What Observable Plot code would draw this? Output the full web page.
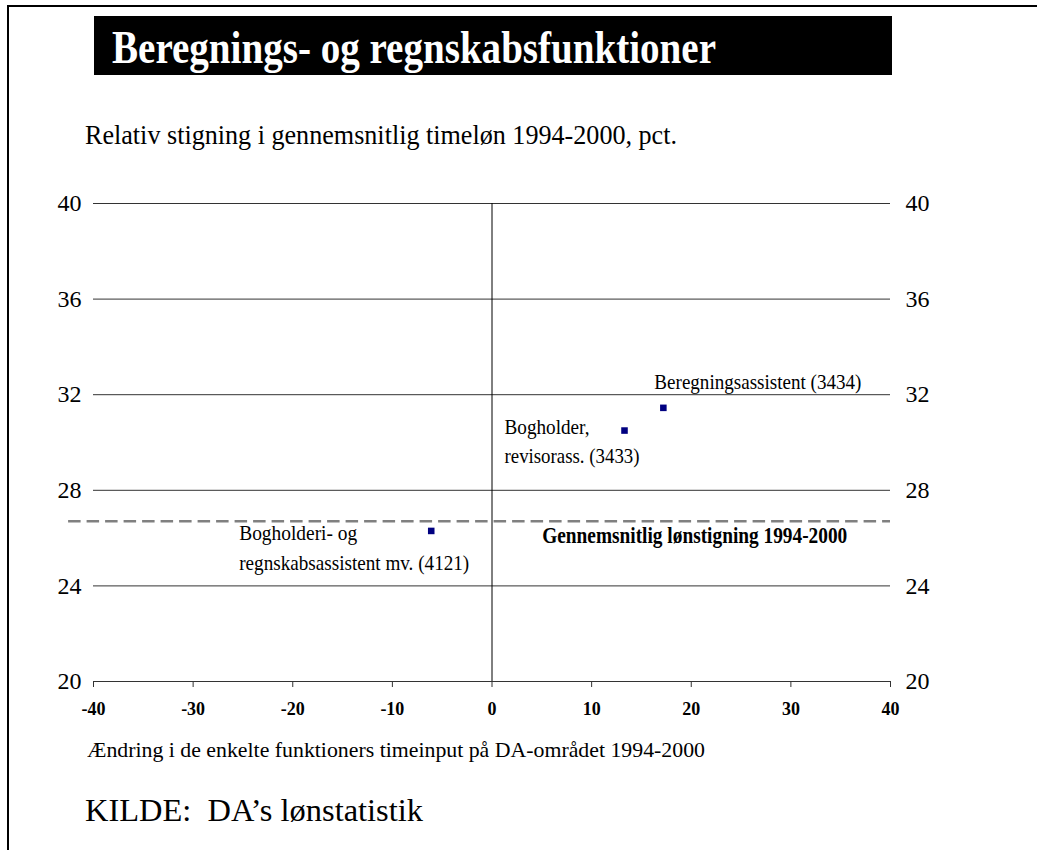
<!DOCTYPE html>
<html><head><meta charset="utf-8">
<script src="https://cdn.jsdelivr.net/npm/d3@7"></script>
<script src="https://cdn.jsdelivr.net/npm/@observablehq/plot@0.6"></script>
<style>
body{margin:0;background:#fff;}
#wrap{position:relative;width:1037px;height:850px;overflow:hidden;font-family:"Liberation Serif","Times New Roman",serif;}
.abs{position:absolute;white-space:pre;transform-origin:0 0;line-height:1.107;}
</style></head><body><div id="wrap"></div>
<script>
// ---- data ----
const titleText = "Beregnings- og regnskabsfunktioner";
const subtitleText = "Relativ stigning i gennemsnitlig timeløn 1994-2000, pct.";
const xLabelText = "Ændring i de enkelte funktioners timeinput på DA-området 1994-2000";
const sourceText = "KILDE:  DA’s lønstatistik";
const xTicks = [-40, -30, -20, -10, 0, 10, 20, 30, 40];
const yTicks = [20, 24, 28, 32, 36, 40];
const names = ["Beregningsassistent (3434)", "Bogholder,\nrevisorass. (3433)", "Bogholderi- og\nregnskabsassistent mv. (4121)"];
const xValues = [17.2, 13.3, -6.1];
const yValues = [31.45, 30.5, 26.3];
const avgValue = 26.7;
const avgLabel = "Gennemsnitlig lønstigning 1994-2000";

// ---- layout (styles / offsets) ----
const labelFont = 22;
const labelLayout = [
  {dx: -9,   base: [-19],     widths: [207]},
  {dx: -120, base: [3, 32],   widths: [85, 135]},
  {dx: -192, base: [9, 39],   widths: [118, 230]}
];
const avgFont = 23, avgLabelX = 20, avgDx = 3.5, avgBase = 22, avgWidth = 305;

const wrap = document.getElementById("wrap");
function box(st){const d=document.createElement("div");d.style.position="absolute";Object.assign(d.style,st);wrap.appendChild(d);}
box({left:"7px",top:"5px",width:"1030px",height:"2px",background:"#000"});
box({left:"7px",top:"5px",width:"2px",height:"845px",background:"#000"});
box({left:"94px",top:"16px",width:"798px",height:"59px",background:"#000"});

function addText(t){
  const el=document.createElement("div");
  el.className="abs";
  el.textContent=t.text;
  Object.assign(el.style,{left:t.left+"px",top:(t.baseline-0.891*t.fs)+"px",fontSize:t.fs+"px",fontWeight:t.weight||"normal",color:t.color||"#000"});
  wrap.appendChild(el);
  const w=el.getBoundingClientRect().width;
  el.style.transform=`scaleX(${t.width/w})`;
}

// ---- plot ----
const points = names.map((n,i)=>({name:n, x:xValues[i], y:yValues[i], i}));
const labelMarks = [];
const widthByText = new Map([[avgLabel, avgWidth]]);
points.forEach((p,i)=>{
  p.name.split("\n").forEach((line,j)=>{
    widthByText.set(line, labelLayout[i].widths[j]);
    labelMarks.push(Plot.text([p],{x:"x",y:"y",text:()=>line,textAnchor:"start",lineAnchor:"top",
      fontSize:labelFont,dx:labelLayout[i].dx,dy:labelLayout[i].base[j]-0.71*labelFont,fill:"#000"}));
  });
});

const plot = Plot.plot({
  width:1037, height:545,
  marginLeft:93, marginRight:147, marginTop:23, marginBottom:44,
  x:{domain:[-40,40]}, y:{domain:[20,40]},
  style:{fontFamily:"'Liberation Serif','Times New Roman',serif",background:"transparent",overflow:"visible",color:"#000"},
  marks:[
    Plot.ruleY(yTicks.filter(d=>d>20),{stroke:"#333",strokeWidth:1}),
    Plot.ruleX([0],{stroke:"#000",strokeWidth:1}),
    Plot.ruleY([20],{stroke:"#333",strokeWidth:1}),
    Plot.axisX({ticks:xTicks,tickSize:6,tickPadding:15,fontSize:18,fontWeight:"bold",label:null,tickFormat:d=>String(d),stroke:"#333"}),
    Plot.axisY({anchor:"left",ticks:yTicks,tickSize:0,tickPadding:12,fontSize:24,label:null,tickFormat:d=>String(d)}),
    Plot.axisY({anchor:"right",ticks:yTicks,tickSize:0,tickPadding:15,fontSize:24,label:null,tickFormat:d=>String(d)}),
    Plot.ruleY([avgValue],{x1:()=>-42.5,x2:()=>40,stroke:"#808080",strokeWidth:2.5,strokeDasharray:"12.5,6"}),
    Plot.dot(points,{x:"x",y:"y",symbol:"square",r:3.7,fill:"#000080",stroke:"none"}),
    ...labelMarks,
    Plot.text([avgValue],{x:()=>avgLabelX,y:d=>d,text:()=>avgLabel,textAnchor:"middle",lineAnchor:"top",
      fontSize:avgFont,fontWeight:"bold",dx:avgDx,dy:avgBase-0.71*avgFont,fill:"#000"})
  ]
});
plot.style.position="absolute";
plot.style.left="0px";
plot.style.top="180px";
wrap.appendChild(plot);

plot.querySelectorAll("text").forEach(t=>{
  const w = widthByText.get(t.textContent);
  if (w) { t.setAttribute("textLength", w); t.setAttribute("lengthAdjust", "spacingAndGlyphs"); }
});

addText({text:titleText,left:112,baseline:63,fs:47,weight:"bold",color:"#fff",width:604});
addText({text:subtitleText,left:85,baseline:144,fs:28,width:592});
addText({text:xLabelText,left:87,baseline:758,fs:21,width:618});
addText({text:sourceText,left:85,baseline:822,fs:31,width:338});
</script></body></html>
